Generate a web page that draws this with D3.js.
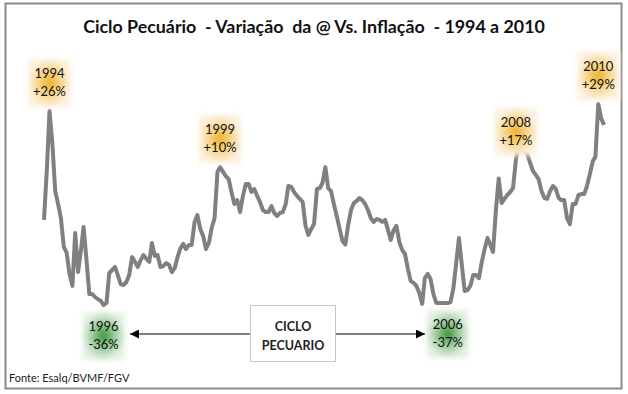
<!DOCTYPE html>
<html><head><meta charset="utf-8">
<script src="https://cdn.jsdelivr.net/npm/d3@7"></script>
<style>body{margin:0;background:#fff}svg{display:block}</style>
</head><body>
<svg id="chart" width="628" height="394"></svg>
<script>
// ---- data (monthly index of @ price vs inflation, % variation) ----
const startMonth = "1994-01";
const values = [
 -10.3, 6.7, 26.0, 15.0, -0.7, -5.0, -9.7, -19.3, -21.3, -28.3, -32.3, -14.7,
 -27.7, -20.3, -12.7, -23.7, -35.0, -35.0, -36.0, -36.7, -37.3, -38.7, -38.0, -28.0,
 -27.0, -26.0, -28.7, -31.7, -32.0, -31.0, -28.7, -22.7, -24.3, -26.0, -23.7, -22.0,
 -23.3, -24.3, -18.0, -22.3, -22.0, -26.0, -25.7, -24.7, -25.3, -27.7, -26.3, -22.7,
 -19.7, -18.3, -20.0, -18.7, -18.7, -11.0, -8.7, -13.3, -15.7, -20.0, -18.0, -13.0,
 -9.7, 5.7, 7.3, 5.7, 4.3, 3.3, -1.0, -5.0, -3.7, -7.7, -2.3, 1.7,
 1.7, -1.0, 0.0, -2.3, -4.3, -7.0, -7.7, -7.7, -5.7, -8.0, -9.0, -8.0,
 -7.7, -5.0, 1.0, 0.7, -1.0, -2.3, -3.3, -4.3, -12.3, -15.3, -13.3, -11.7,
 0.0, 0.3, 2.0, 7.3, 0.3, -0.7, -5.0, -9.0, -13.3, -17.3, -18.5, -12.0,
 -7.0, -4.7, -4.0, -3.0, -3.7, -5.0, -7.0, -9.7, -11.0, -10.0, -10.3, -11.0,
 -10.3, -13.7, -17.0, -13.7, -12.3, -17.7, -20.3, -21.7, -26.7, -30.7, -31.3, -32.3,
 -34.7, -38.3, -29.7, -28.3, -30.0, -35.0, -38.0, -38.0, -38.0, -38.0, -38.0, -37.7,
 -33.0, -24.3, -16.3, -25.3, -34.0, -33.7, -32.3, -28.7, -28.7, -29.7, -24.3, -20.0,
 -16.3, -18.7, -21.0, -7.0, 3.5, -4.7, -3.3, -2.0, -1.0, 0.3, 9.7, 15.3,
 14.3, 12.7, 11.7, 8.7, 6.0, 4.7, 3.3, -0.7, -3.0, -3.3, -0.7, 1.0,
 0.0, -3.0, -3.7, -3.7, -9.7, -11.7, -5.0, -5.0, -2.0, -1.7, -1.7, 1.0,
 5.0, 9.3, 10.7, 28.3, 23.7, 21.3
];
// annotations: month of extreme, year label, % label, type
const annotMonths = ["1994-03", "1999-03", "2007-11", "2010-04", "1995-10", "2005-11"];
const annotYears  = ["1994", "1999", "2008", "2010", "1996", "2006"];
const annotPct    = ["+26%", "+10%", "+17%", "+29%", "-36%", "-37%"];
const annotKind   = ["peak", "peak", "peak", "peak", "trough", "trough"];
const titleText = "Ciclo Pecuário  - Variação  da @ Vs. Inflação  - 1994 a 2010";
const sourceText = "Fonte: Esalq/BVMF/FGV";
const cycleText = ["CICLO", "PECUARIO"];

// ---- build ----
const parse = d3.timeParse("%Y-%m");
const t0 = parse(startMonth);
const data = values.map((v, i) => ({date: d3.timeMonth.offset(t0, i), v}));

const svg = d3.select("#chart");
const FONT = "Lato, 'Open Sans', 'DejaVu Sans', sans-serif";

const x = d3.scaleTime().domain(d3.extent(data, d => d.date)).range([44, 604]);
const y = d3.scaleLinear().domain([-40, 30]).range([309, 99]);

// frame
svg.append("rect").attr("x", 5.5).attr("y", 3.5).attr("width", 616).attr("height", 385)
  .attr("fill", "#fff").attr("stroke", "#8a8a8a").attr("stroke-width", 2);

// title
const title = svg.append("text").attr("x", 314).attr("y", 33).attr("text-anchor", "middle")
  .attr("font-family", FONT).attr("font-weight", "bold").attr("font-size", 17)
  .attr("fill", "#111").style("white-space", "pre").text(titleText);
{
  const w = title.node().getComputedTextLength();
  title.attr("font-size", 17 * 462 / w);
}

// line
svg.append("path").datum(data)
  .attr("d", d3.line().x(d => x(d.date)).y(d => y(d.v)))
  .attr("fill", "none").attr("stroke", "#808080").attr("stroke-width", 4)
  .attr("stroke-linejoin", "round");

// defs: gradients + blur
const defs = svg.append("defs");
const gGold = defs.append("radialGradient").attr("id", "gold");
gGold.append("stop").attr("offset", "0%").attr("stop-color", "#eeae1c");
gGold.append("stop").attr("offset", "45%").attr("stop-color", "#f6d07c");
gGold.append("stop").attr("offset", "100%").attr("stop-color", "#fdf1df");
const gGreen = defs.append("radialGradient").attr("id", "green");
gGreen.append("stop").attr("offset", "0%").attr("stop-color", "#2f8f2f");
gGreen.append("stop").attr("offset", "45%").attr("stop-color", "#8cc48c");
gGreen.append("stop").attr("offset", "100%").attr("stop-color", "#e4f1e4");
defs.append("filter").attr("id", "soft").attr("x", "-30%").attr("y", "-30%")
  .attr("width", "160%").attr("height", "160%")
  .append("feGaussianBlur").attr("stdDeviation", 2.5);

const byMonth = new Map(data.map(d => [d3.timeFormat("%Y-%m")(d.date), d]));
annotMonths.forEach((m, i) => {
  const d = byMonth.get(m);
  const cx = x(d.date);
  const peak = annotKind[i] === "peak";
  const ext = y(d.v);
  const b1 = peak ? ext - 33 : ext + 26;
  const gc = b1 + 5;
  svg.append("rect").attr("x", cx - 21).attr("y", gc - 24).attr("width", 42).attr("height", 48)
    .attr("fill", peak ? "url(#gold)" : "url(#green)").attr("filter", "url(#soft)");
  const t = svg.append("text").attr("text-anchor", "middle").attr("font-family", FONT)
    .attr("font-size", 13).attr("fill", "#111");
  t.append("tspan").attr("x", cx).attr("y", b1).text(annotYears[i]);
  t.append("tspan").attr("x", cx).attr("y", b1 + 18).text(annotPct[i]);
});

// ciclo pecuario box and arrows
defs.append("marker").attr("id", "arr").attr("viewBox", "0 0 10 10").attr("refX", 10).attr("refY", 5)
  .attr("markerWidth", 9).attr("markerHeight", 9).attr("markerUnits", "userSpaceOnUse")
  .attr("orient", "auto").append("path").attr("d", "M0,0L10,5L0,10Z").attr("fill", "#000");
svg.append("line").attr("x1", 250).attr("x2", 130).attr("y1", 334).attr("y2", 334)
  .attr("stroke", "#000").attr("stroke-width", 1).attr("marker-end", "url(#arr)");
svg.append("line").attr("x1", 336).attr("x2", 425).attr("y1", 334).attr("y2", 334)
  .attr("stroke", "#000").attr("stroke-width", 1).attr("marker-end", "url(#arr)");
svg.append("rect").attr("x", 250.5).attr("y", 305.5).attr("width", 85).attr("height", 56)
  .attr("fill", "#fff").attr("stroke", "#c8c8c8").attr("stroke-width", 1);
const ct = svg.append("text").attr("text-anchor", "middle").attr("font-family", FONT)
  .attr("font-size", 12.5).attr("font-weight", "bold").attr("fill", "#222");
ct.append("tspan").attr("x", 293).attr("y", 331).text(cycleText[0]);
ct.append("tspan").attr("x", 293).attr("y", 350).text(cycleText[1]);

// source
svg.append("text").attr("x", 9).attr("y", 382).attr("font-family", FONT)
  .attr("font-size", 11).attr("fill", "#222").text(sourceText);
</script>
</body></html>
